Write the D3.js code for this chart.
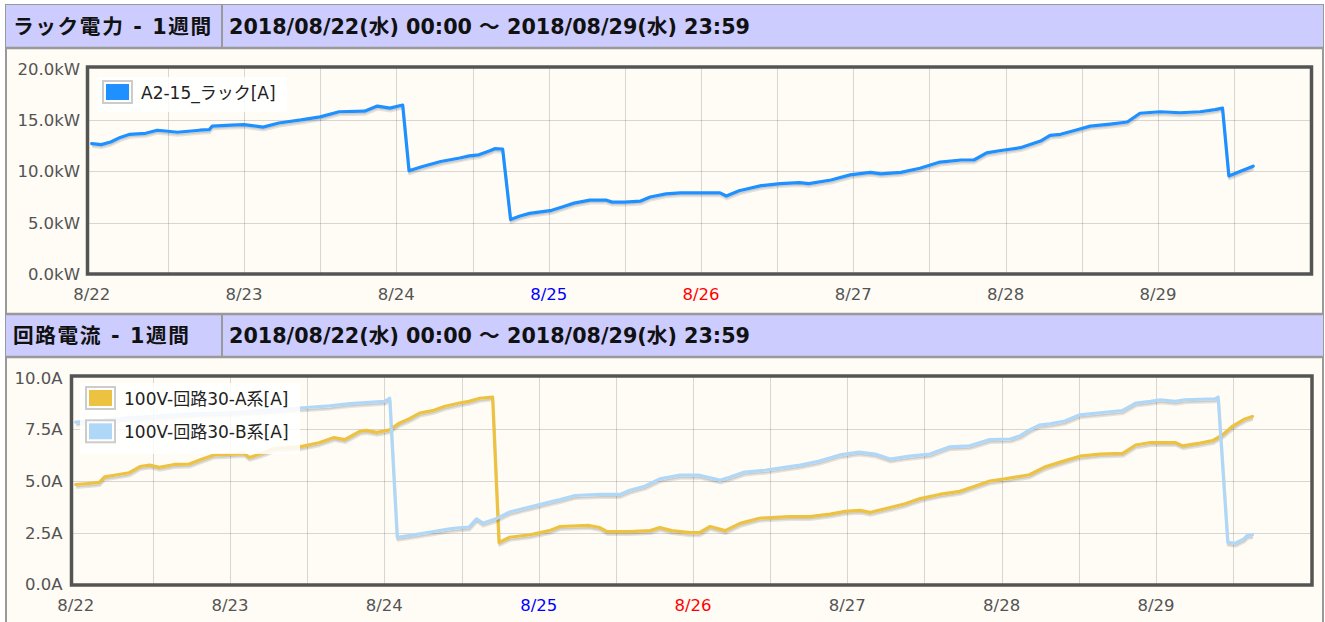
<!DOCTYPE html>
<meta charset="utf-8">
<style>
body{margin:0;background:#fff;}
text{font-family:"DejaVu Sans","Noto Sans CJK JP",sans-serif;}
.head{font-size:20.7px;font-weight:bold;fill:#111;}
.title{letter-spacing:1.6px;}
.tick{font-size:16.5px;fill:#545454;}
.legend text{font-size:17px;fill:#222;}
.grid line{stroke:rgba(84,84,84,0.22);stroke-width:1;shape-rendering:crispEdges;}
.frame{fill:none;stroke:#545454;stroke-width:3.5;}
.series{fill:none;stroke-width:3.2;stroke-linejoin:round;stroke-linecap:round;}
.shadow{fill:none;stroke:rgba(0,0,0,0.1);stroke-linejoin:round;}
</style>
<body>
<script src="https://cdn.jsdelivr.net/npm/d3@7"></script>
<script>

var periodText = "2018/08/22(水) 00:00 ～ 2018/08/29(水) 23:59";
var titles = ["ラック電力 - 1週間", "回路電流 - 1週間"];
var dayLabels = ["8/22","8/23","8/24","8/25","8/26","8/27","8/28","8/29"];
var powerTicks = [0, 5, 10, 15, 20];
var currentTicks = [0, 2.5, 5, 7.5, 10];
var seriesNames = ["A2-15_ラック[A]", "100V-回路30-A系[A]", "100V-回路30-B系[A]"];

var rackPower = [
["08/22 00:00",12.7],["08/22 01:30",12.6],["08/22 03:00",12.85],["08/22 04:30",13.3],
["08/22 06:00",13.6],["08/22 08:30",13.7],["08/22 10:20",14.0],["08/22 12:00",13.9],
["08/22 13:30",13.8],["08/22 17:00",14.0],["08/22 18:30",14.05],["08/22 19:00",14.4],
["08/22 22:00",14.5],["08/23 00:00",14.55],["08/23 03:00",14.3],["08/23 05:30",14.7],
["08/23 09:00",15.0],["08/23 12:00",15.3],["08/23 15:00",15.8],["08/23 19:00",15.85],
["08/23 21:00",16.35],["08/23 23:00",16.15],["08/24 01:00",16.45],["08/24 02:00",10.05],
["08/24 04:00",10.45],["08/24 07:00",10.95],["08/24 10:00",11.3],["08/24 11:30",11.5],
["08/24 13:00",11.6],["08/24 14:45",12.0],["08/24 15:30",12.2],["08/24 16:45",12.15],
["08/24 18:00",5.3],["08/24 19:30",5.65],["08/24 21:00",5.9],["08/25 00:30",6.2],
["08/25 02:30",6.6],["08/25 04:00",6.9],["08/25 06:30",7.2],["08/25 09:00",7.2],
["08/25 10:00",7.0],["08/25 12:00",7.0],["08/25 14:30",7.1],["08/25 16:00",7.5],
["08/25 18:30",7.8],["08/25 20:45",7.9],["08/26 00:00",7.9],["08/26 03:00",7.9],
["08/26 04:00",7.6],["08/26 06:00",8.1],["08/26 09:30",8.6],["08/26 12:30",8.8],
["08/26 15:30",8.9],["08/26 17:00",8.8],["08/26 20:30",9.15],["08/26 23:30",9.65],
["08/27 02:40",9.9],["08/27 04:20",9.75],["08/27 07:30",9.9],["08/27 10:30",10.3],
["08/27 13:40",10.9],["08/27 17:00",11.1],["08/27 19:00",11.1],["08/27 21:00",11.8],
["08/27 23:00",12.0],["08/28 02:20",12.3],["08/28 05:30",12.95],["08/28 07:00",13.5],
["08/28 08:40",13.6],["08/28 11:00",14.0],["08/28 13:20",14.4],["08/28 16:30",14.6],
["08/28 19:10",14.8],["08/28 21:10",15.65],["08/29 00:20",15.8],["08/29 03:30",15.7],
["08/29 06:40",15.8],["08/29 09:00",16.0],["08/29 10:10",16.15],["08/29 11:10",9.55],
["08/29 13:00",10.0],["08/29 15:00",10.5]
];

var circuitA = [
["08/22 00:00",4.83],["08/22 02:00",4.88],["08/22 03:40",4.93],["08/22 04:30",5.2],
["08/22 06:00",5.28],["08/22 08:20",5.4],["08/22 10:00",5.7],["08/22 11:30",5.77],
["08/22 13:00",5.66],["08/22 15:20",5.8],["08/22 17:40",5.82],["08/22 19:10",6.0],
["08/22 21:30",6.26],["08/23 00:40",6.3],["08/23 02:10",6.34],["08/23 03:00",6.14],
["08/23 05:20",6.37],["08/23 06:50",6.58],["08/23 10:50",6.65],["08/23 13:50",6.85],
["08/23 16:10",7.1],["08/23 17:50",7.0],["08/23 20:10",7.4],["08/23 21:10",7.45],
["08/23 22:50",7.35],["08/24 00:50",7.47],["08/24 02:20",7.8],["08/24 03:50",8.0],
["08/24 05:30",8.28],["08/24 07:30",8.4],["08/24 09:20",8.6],["08/24 11:40",8.77],
["08/24 13:10",8.85],["08/24 14:50",9.0],["08/24 16:50",9.06],["08/24 17:50",2.03],
["08/24 19:30",2.28],["08/24 22:40",2.4],["08/25 01:40",2.6],["08/25 03:20",2.8],
["08/25 07:50",2.85],["08/25 09:30",2.75],["08/25 10:40",2.55],["08/25 14:10",2.55],
["08/25 17:20",2.6],["08/25 18:50",2.75],["08/25 20:40",2.6],["08/25 23:30",2.5],
["08/26 01:00",2.5],["08/26 02:40",2.8],["08/26 05:00",2.6],["08/26 07:20",2.95],
["08/26 10:20",3.2],["08/26 15:00",3.28],["08/26 18:10",3.28],["08/26 21:20",3.4],
["08/26 23:40",3.53],["08/27 02:00",3.58],["08/27 03:30",3.48],["08/27 06:40",3.72],
["08/27 09:00",3.9],["08/27 11:20",4.15],["08/27 14:20",4.35],["08/27 17:30",4.5],
["08/27 19:50",4.75],["08/27 22:10",5.0],["08/28 00:30",5.1],["08/28 04:20",5.3],
["08/28 06:40",5.67],["08/28 09:00",5.9],["08/28 12:10",6.2],["08/28 15:20",6.3],
["08/28 18:50",6.34],["08/28 20:50",6.74],["08/28 23:10",6.86],["08/29 03:00",6.86],
["08/29 04:10",6.7],["08/29 06:50",6.83],["08/29 08:50",6.95],["08/29 10:20",7.23],
["08/29 12:00",7.67],["08/29 13:50",8.0],["08/29 15:00",8.12]
];

var circuitB = [
["08/22 00:00",7.85],["08/22 03:00",7.9],["08/22 08:00",8.05],["08/22 13:00",8.15],
["08/22 18:00",8.25],["08/23 00:00",8.3],["08/23 05:00",8.4],["08/23 10:50",8.53],
["08/23 15:30",8.63],["08/23 18:40",8.74],["08/24 00:00",8.85],["08/24 00:50",9.0],
["08/24 02:00",2.28],["08/24 03:50",2.36],["08/24 07:00",2.52],["08/24 10:10",2.69],
["08/24 11:40",2.74],["08/24 13:10",2.77],["08/24 14:20",3.17],["08/24 15:20",2.96],
["08/24 17:20",3.17],["08/24 19:30",3.5],["08/24 21:30",3.66],["08/24 23:40",3.82],
["08/25 01:40",3.98],["08/25 03:20",4.1],["08/25 05:40",4.3],["08/25 09:30",4.35],
["08/25 12:40",4.35],["08/25 14:10",4.55],["08/25 16:30",4.75],["08/25 18:50",5.1],
["08/25 21:50",5.28],["08/26 01:00",5.28],["08/26 04:10",5.04],["08/26 05:40",5.18],
["08/26 08:00",5.43],["08/26 11:10",5.52],["08/26 13:30",5.62],["08/26 16:40",5.77],
["08/26 19:40",5.96],["08/26 22:50",6.26],["08/27 01:50",6.4],["08/27 04:20",6.3],
["08/27 06:40",6.06],["08/27 09:40",6.2],["08/27 12:50",6.3],["08/27 15:50",6.65],
["08/27 19:00",6.7],["08/27 22:10",7.0],["08/28 01:20",7.03],["08/28 02:50",7.18],
["08/28 04:20",7.47],["08/28 05:50",7.7],["08/28 07:30",7.76],["08/28 09:50",7.9],
["08/28 12:10",8.2],["08/28 15:20",8.3],["08/28 18:50",8.41],["08/28 20:50",8.77],
["08/28 23:10",8.85],["08/29 00:40",8.93],["08/29 03:00",8.85],["08/29 04:30",8.93],
["08/29 09:10",8.97],["08/29 09:40",9.06],["08/29 11:10",2.03],["08/29 12:20",1.99],
["08/29 13:40",2.2],["08/29 14:10",2.36],["08/29 15:00",2.4]
];

var parse = d3.timeParse("%Y/%m/%d %H:%M");
function toPoints(arr){ return arr.map(d=>({t:parse("2018/"+d[0]), v:d[1]})); }

var svg = d3.select("body").append("svg").attr("width",1325).attr("height",622);

// page frame
svg.append("rect").attr("x",6).attr("y",5).attr("width",1317).attr("height",640)
	.attr("fill","#fffcf6").attr("stroke","#999").attr("stroke-width",2);

var panels = [
	{top:5, title:titles[0], ticks:powerTicks, unit:"kW", max:20,
	 xr:[91.7,1310.3], yr:[274,68.6], frame:[87.5,67,1311.5,274], labelX:80,
	 series:[{name:seriesNames[0], color:"#1e90ff", data:toPoints(rackPower)}],
	 legend:{x:97, y:77, w:190, h:35}},
	{top:314, title:titles[1], ticks:currentTicks, unit:"A", max:10,
	 xr:[75.7,1310.3], yr:[584.4,377.6], frame:[71.5,376,1312,585], labelX:62.5,
	 series:[{name:seriesNames[1], color:"#edc240", data:toPoints(circuitA)},
	         {name:seriesNames[2], color:"#afd8f8", data:toPoints(circuitB)}],
	 legend:{x:80, y:383, w:220, h:71}}
];

panels.forEach(function(p, i){
	var g = svg.append("g");

	// header row
	g.append("rect").attr("x",6).attr("y",p.top).attr("width",1317).attr("height",43).attr("fill","#ccccff");
	g.append("line").attr("x1",6).attr("x2",1323).attr("y1",p.top+43).attr("y2",p.top+43)
		.attr("stroke","#999").attr("stroke-width",2.5);
	if(i>0) g.append("line").attr("x1",6).attr("x2",1323).attr("y1",p.top).attr("y2",p.top)
		.attr("stroke","#999").attr("stroke-width",2.5);
	g.append("line").attr("x1",222).attr("x2",222).attr("y1",p.top).attr("y2",p.top+43)
		.attr("stroke","#999").attr("stroke-width",2);
	g.append("text").attr("class","head title").attr("x",13).attr("y",p.top+29).text(p.title);
	g.append("text").attr("class","head").attr("x",229).attr("y",p.top+29).text(periodText);

	var x = d3.scaleTime()
		.domain([parse("2018/08/22 00:00"), parse("2018/08/30 00:00")])
		.range(p.xr);
	var y = d3.scaleLinear().domain([0,p.max]).range(p.yr);
	var f = p.frame;

	// grid
	var grid = g.append("g").attr("class","grid");
	grid.selectAll(".v").data(d3.timeHour.every(12).range(x.domain()[0], x.domain()[1]).slice(1))
		.join("line").attr("class","v")
		.attr("x1",d=>Math.round(x(d))+0.5).attr("x2",d=>Math.round(x(d))+0.5)
		.attr("y1",f[1]).attr("y2",f[3]);
	grid.selectAll(".h").data(p.ticks.slice(1,-1))
		.join("line").attr("class","h")
		.attr("x1",f[0]).attr("x2",f[2])
		.attr("y1",d=>Math.round(y(d))+0.5).attr("y2",d=>Math.round(y(d))+0.5);

	// clip
	var cid = "clip"+i;
	svg.append("clipPath").attr("id",cid).append("rect")
		.attr("x",f[0]+1.5).attr("y",f[1]+1.5).attr("width",f[2]-f[0]-3).attr("height",f[3]-f[1]-3);

	var line = d3.line().x(d=>x(d.t)).y(d=>y(d.v));
	var lines = g.append("g").attr("clip-path","url(#"+cid+")");
	p.series.forEach(function(s){
		lines.append("path").attr("class","shadow").attr("stroke-width",3)
			.attr("transform","translate(0.52,2.95)").attr("d",line(s.data));
		lines.append("path").attr("class","shadow").attr("stroke-width",1.5)
			.attr("transform","translate(0.39,2.2)").attr("d",line(s.data));
		lines.append("path").attr("class","series").attr("stroke",s.color).attr("d",line(s.data));
	});

	g.append("rect").attr("class","frame")
		.attr("x",f[0]).attr("y",f[1]).attr("width",f[2]-f[0]).attr("height",f[3]-f[1]);

	// y labels
	g.selectAll(".ylab").data(p.ticks).join("text").attr("class","tick ylab")
		.attr("x",p.labelX).attr("y",d=>y(d)+6).attr("text-anchor","end")
		.text(d=>d3.format(".1f")(d)+p.unit);

	// x labels
	var days = d3.timeDay.range(x.domain()[0], x.domain()[1]);
	g.selectAll(".xlab").data(days).join("text").attr("class","tick xlab")
		.attr("x",d=>x(d)).attr("y",f[3]+26).attr("text-anchor","middle")
		.style("fill",d=>d.getDay()==6 ? "#0000ff" : d.getDay()==0 ? "#ff0000" : null)
		.text((d,j)=>dayLabels[j]);

	// legend
	var lg = g.append("g").attr("class","legend");
	lg.append("rect").attr("x",p.legend.x).attr("y",p.legend.y).attr("width",p.legend.w).attr("height",p.legend.h)
		.attr("fill","#fff").attr("opacity",0.85);
	p.series.forEach(function(s,k){
		var sy = p.legend.y + 4 + k*33.3;
		lg.append("rect").attr("x",p.legend.x+6).attr("y",sy).attr("width",29).attr("height",22)
			.attr("fill","#fff").attr("stroke","#ccc").attr("stroke-width",2);
		lg.append("rect").attr("x",p.legend.x+9).attr("y",sy+3).attr("width",23).attr("height",16)
			.attr("fill",s.color);
		lg.append("text").attr("x",p.legend.x+44).attr("y",sy+17.5).text(s.name);
	});
});

</script>
</body>
</html>
